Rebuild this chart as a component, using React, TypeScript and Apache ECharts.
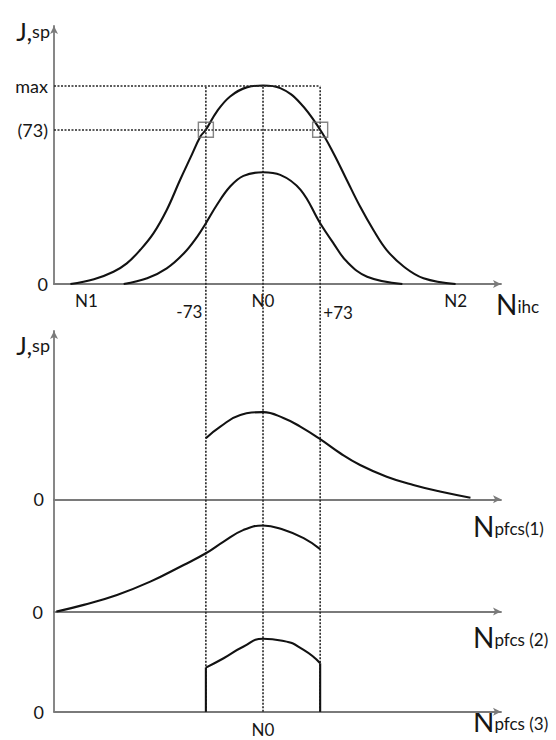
import React, { useEffect, useRef } from "react";
import * as echarts from "echarts";

// ---------- data ----------
const xMin = -267;
const xMax = 304;
const guideX = [-73, 0, 73];
const maxLevel = 100;
const halfLevel = 77.7;

const topYMax = 130;
const b1YMax = 84.8;
const b2YMax = 56.6;
const b3YMax = 50.4;

// top panel: outer (wide) bell curve
const outerX = [-246, -216, -191, -174, -157, -140, -123, -106, -93, -80, -73, -59, -42, -20, 0, 22, 48, 73, 90, 107, 124, 141, 158, 180, 205, 246];
const outerY = [0, 2.4, 6.2, 10.4, 17.1, 25.5, 37.3, 52.4, 63.4, 74.3, 77.7, 86.9, 94.5, 99.2, 100, 98.7, 91.0, 77.7, 65.9, 52.4, 39.0, 27.2, 17.1, 8.7, 2.9, 0];

// top panel: inner (narrow) bell curve
const innerX = [-178, -148, -123, -101, -84, -73, -59, -42, -25, 0, 22, 48, 73, 90, 107, 133, 178];
const innerY = [0, 2.9, 7.9, 15.5, 23.9, 30.6, 39.8, 49.1, 54.5, 56.3, 55.0, 47.4, 30.6, 20.5, 11.3, 3.7, 0];

// bottom panel 1 (Npfcs(1))
const c1X = [-73, -54.5, -29, 0, 26, 47.6, 73, 98.7, 124, 158, 192, 226, 265];
const c1Y = [30.8, 36.6, 42.5, 43.9, 41.0, 36.6, 30.3, 23.2, 17.3, 11.4, 7.2, 3.9, 0.8];

// bottom panel 2 (Npfcs(2))
const c2X = [-264, -229, -186.5, -144, -101.4, -73, -50.3, -24.8, 0, 26.3, 51.9, 73];
const c2Y = [0, 3.4, 8.4, 15.1, 23.5, 29.4, 35.3, 41.2, 43.4, 41.2, 37.0, 31.5];

// bottom panel 3 (Npfcs(3))
const c3X = [-73, -50.3, -24.8, 0, 26.3, 51.9, 73];
const c3Y = [22.2, 26.9, 32.8, 36.7, 35.6, 31.1, 24.4];

// tick labels
const topXTicks = [-246, -73, 0, 73, 246];
const topXTickLabels = ["N1", "-73", "N0", "+73", "N2"];
const topYTicks = [0, halfLevel, maxLevel];
const topYTickLabels = ["0", "(73)", "max"];
const bottomXTicks = [0];
const bottomXTickLabels = ["N0"];
const bottomYTicks = [0];
const bottomYTickLabels = ["0"];

const zip = (xs: number[], ys: number[]) => xs.map((x, i) => [x, ys[i]]);

// ---------- styling ----------
const FONT = "Lato";
const TXT = "#161616";
const AXIS = "#7a7a7a";
const CURVE = "#121212";
const DOT = "#262626";

const L = 54;
const W = 447;
const ppu = 258 / topYMax;
const topTop = 26;
const topH = topYMax * ppu;
const b1Top = 331;
const b1H = b1YMax * ppu;
const b2Top = b1Top + b1H;
const b2H = b2YMax * ppu;
const b3Top = b2Top + b2H;
const b3H = b3YMax * ppu;
const bottomEnd = b3Top + b3H;
const ovTop = topTop + (topYMax - maxLevel) * ppu;
const ovH = bottomEnd - ovTop;

const nameRich = {
  n: { fontFamily: FONT, fontSize: 28, color: TXT, verticalAlign: "bottom", lineHeight: 26 },
  s: { fontFamily: FONT, fontSize: 17, color: TXT, verticalAlign: "bottom", lineHeight: 22, padding: [0, 0, 3, 0] },
  j: { fontFamily: FONT, fontSize: 25, color: TXT, verticalAlign: "bottom", lineHeight: 24 },
  p: { fontFamily: FONT, fontSize: 18, color: TXT, verticalAlign: "bottom", lineHeight: 20, padding: [0, 0, 3, 0] },
};

const arrowLine = {
  show: true,
  onZero: false,
  symbol: ["none", "arrow"],
  symbolSize: [6, 8],
  lineStyle: { color: AXIS, width: 1.8 },
};
const plainLine = { show: true, onZero: false, lineStyle: { color: AXIS, width: 1.8 } };

const findLabel = (ticks: number[], labels: string[], v: number) => {
  const i = ticks.findIndex((t) => Math.abs(t - v) < 1e-6);
  return i >= 0 ? labels[i] : "";
};

const xBase = (gridIndex: number) => ({
  type: "value",
  gridIndex,
  min: xMin,
  max: xMax,
  axisTick: { show: false },
  splitLine: { show: false },
  axisLabel: { show: false },
});

const yBase = (gridIndex: number, max: number) => ({
  type: "value",
  gridIndex,
  min: 0,
  max,
  axisTick: { show: false },
  splitLine: { show: false },
});

const xName = (label: string, gap: number, padTop: number) => ({
  name: `{n|N}{s|${label}}`,
  nameLocation: "end",
  nameGap: gap,
  nameTextStyle: { align: "left", verticalAlign: "top", padding: [padTop, 0, 0, 0], rich: nameRich },
});

const dotted = { type: [2, 1.5], color: DOT, width: 1.6 };
const curveStyle = { color: CURVE, width: 2.1 };

export default function App() {
  const ref = useRef<HTMLDivElement>(null);
  useEffect(() => {
    if (!ref.current) return;
    const chart = echarts.init(ref.current, null, { renderer: "svg" });
    const topLabelKeys = ["l", "ml", "c", "mr", "c"];
    const option = {
      animation: false,
      backgroundColor: "#ffffff",
      textStyle: { fontFamily: FONT, color: TXT },
      grid: [
        { left: L, top: topTop, width: W, height: topH },
        { left: L, top: b1Top, width: W, height: b1H },
        { left: L, top: b2Top, width: W, height: b2H },
        { left: L, top: b3Top, width: W, height: b3H },
        { left: L, top: ovTop, width: W, height: ovH },
      ],
      xAxis: [
        {
          ...xBase(0),
          axisLine: arrowLine,
          ...xName("ihc", -5, 8),
          axisLabel: {
            show: true,
            customValues: topXTicks,
            margin: 8,
            fontFamily: FONT,
            fontSize: 17,
            color: TXT,
            formatter: (v: number) => {
              const i = topXTicks.findIndex((t) => Math.abs(t - v) < 1e-6);
              if (i < 0) return "";
              return `{${topLabelKeys[i]}|${topXTickLabels[i]}}`;
            },
            rich: {
              l: { fontFamily: FONT, fontSize: 17, color: TXT, padding: [0, 0, 0, 32] },
              ml: { fontFamily: FONT, fontSize: 17, color: TXT, padding: [11, 33, 0, 0] },
              c: { fontFamily: FONT, fontSize: 17, color: TXT },
              mr: { fontFamily: FONT, fontSize: 17, color: TXT, padding: [12, 0, 0, 36] },
            },
          },
        },
        { ...xBase(1), axisLine: arrowLine, ...xName("pfcs(1)", -28, 15) },
        { ...xBase(2), axisLine: arrowLine, ...xName("pfcs (2)", -28, 13) },
        {
          ...xBase(3),
          axisLine: arrowLine,
          ...xName("pfcs (3)", -28, -3),
          axisLabel: {
            show: true,
            customValues: bottomXTicks,
            margin: 9,
            fontFamily: FONT,
            fontSize: 17,
            color: TXT,
            formatter: (v: number) => findLabel(bottomXTicks, bottomXTickLabels, v),
          },
        },
        { ...xBase(4), show: false },
      ],
      yAxis: [
        {
          ...yBase(0, topYMax),
          axisLine: arrowLine,
          name: "{j|J,}{p|sp}",
          nameLocation: "end",
          nameGap: -5,
          nameTextStyle: { align: "right", verticalAlign: "middle", padding: [0, 4, 0, 0], rich: nameRich },
          axisLabel: {
            show: true,
            customValues: topYTicks,
            margin: 6,
            fontFamily: FONT,
            fontSize: 18,
            color: TXT,
            formatter: (v: number) => findLabel(topYTicks, topYTickLabels, v),
          },
        },
        {
          ...yBase(1, b1YMax),
          axisLine: arrowLine,
          name: "{j|J,}{p|sp}",
          nameLocation: "end",
          nameGap: -14,
          nameTextStyle: { align: "right", verticalAlign: "middle", padding: [0, 4, 0, 0], rich: nameRich },
          axisLabel: {
            show: true,
            customValues: bottomYTicks,
            margin: 10,
            fontFamily: FONT,
            fontSize: 18,
            color: TXT,
            formatter: (v: number) => findLabel(bottomYTicks, bottomYTickLabels, v),
          },
        },
        {
          ...yBase(2, b2YMax),
          axisLine: plainLine,
          axisLabel: {
            show: true,
            customValues: bottomYTicks,
            margin: 11,
            fontFamily: FONT,
            fontSize: 18,
            color: TXT,
            formatter: (v: number) => findLabel(bottomYTicks, bottomYTickLabels, v),
          },
        },
        {
          ...yBase(3, b3YMax),
          axisLine: plainLine,
          axisLabel: {
            show: true,
            customValues: bottomYTicks,
            margin: 10,
            fontFamily: FONT,
            fontSize: 18,
            color: TXT,
            formatter: (v: number) => findLabel(bottomYTicks, bottomYTickLabels, v),
          },
        },
        { type: "value", gridIndex: 4, min: 0, max: 1, show: false },
      ],
      series: [
        ...guideX.map((gx) => ({
          type: "line",
          xAxisIndex: 4,
          yAxisIndex: 4,
          data: [
            [gx, 0],
            [gx, 1],
          ],
          symbol: "none",
          silent: true,
          lineStyle: dotted,
          z: 1,
        })),
        {
          type: "line",
          xAxisIndex: 0,
          yAxisIndex: 0,
          data: zip(outerX, outerY),
          smooth: 0.4,
          symbol: "none",
          lineStyle: curveStyle,
          markLine: {
            silent: true,
            symbol: ["none", "none"],
            label: { show: false },
            lineStyle: dotted,
            data: [
              [{ coord: [xMin, maxLevel] }, { coord: [guideX[2], maxLevel] }],
              [{ coord: [xMin, halfLevel] }, { coord: [guideX[2], halfLevel] }],
            ],
          },
        },
        {
          type: "line",
          xAxisIndex: 0,
          yAxisIndex: 0,
          data: zip(innerX, innerY),
          smooth: 0.4,
          symbol: "none",
          lineStyle: curveStyle,
        },
        {
          type: "scatter",
          xAxisIndex: 0,
          yAxisIndex: 0,
          data: [
            [guideX[0], halfLevel],
            [guideX[2], halfLevel],
          ],
          symbol: "rect",
          symbolSize: 15,
          silent: true,
          itemStyle: { color: "rgba(0,0,0,0)", borderColor: "#666666", borderWidth: 1.4 },
          z: 5,
        },
        {
          type: "line",
          xAxisIndex: 1,
          yAxisIndex: 1,
          data: zip(c1X, c1Y),
          smooth: 0.45,
          symbol: "none",
          lineStyle: curveStyle,
        },
        {
          type: "line",
          xAxisIndex: 2,
          yAxisIndex: 2,
          data: zip(c2X, c2Y),
          smooth: 0.45,
          symbol: "none",
          lineStyle: curveStyle,
        },
        {
          type: "line",
          xAxisIndex: 3,
          yAxisIndex: 3,
          data: zip(c3X, c3Y),
          smooth: 0.55,
          symbol: "none",
          lineStyle: curveStyle,
        },
        {
          type: "line",
          xAxisIndex: 3,
          yAxisIndex: 3,
          data: [
            [c3X[0], 0],
            [c3X[0], c3Y[0]],
          ],
          symbol: "none",
          lineStyle: curveStyle,
        },
        {
          type: "line",
          xAxisIndex: 3,
          yAxisIndex: 3,
          data: [
            [c3X[c3X.length - 1], 0],
            [c3X[c3X.length - 1], c3Y[c3Y.length - 1]],
          ],
          symbol: "none",
          lineStyle: curveStyle,
        },
      ],
    };
    chart.setOption(option as any);
    return () => chart.dispose();
  }, []);
  return (
    <div
      ref={ref}
      style={{ position: "absolute", left: 0, top: 0, width: 556, height: 740, background: "#ffffff" }}
    />
  );
}
